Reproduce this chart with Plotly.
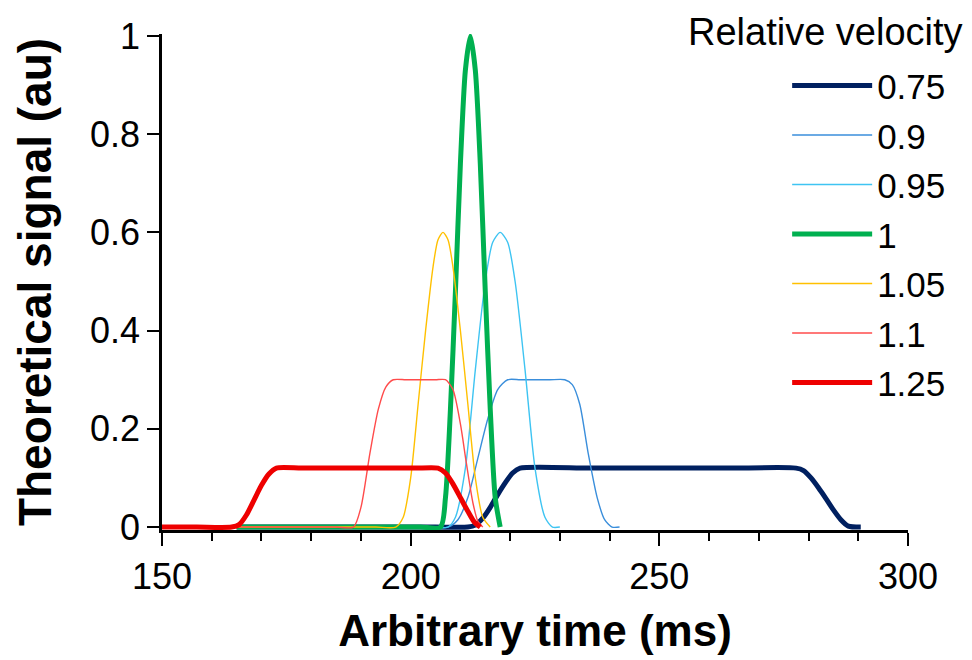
import plotly.graph_objects as go

# ---- data ----
names = ["0.75", "0.9", "0.95", "1", "1.05", "1.1", "1.25"]

x_075 = [165, 180, 195, 205, 211.5, 213, 214.5, 216, 217.5, 219, 220.5, 222, 236, 250, 264, 277.5, 279, 280.5, 282, 283.5, 285, 286.5, 288, 290.5]
y_075 = [0, 0, 0, 0, 0, 0.004, 0.018, 0.04, 0.066, 0.09, 0.11, 0.12, 0.12, 0.12, 0.12, 0.12, 0.115, 0.1, 0.08, 0.058, 0.035, 0.015, 0.002, 0]

x_090 = [165, 180, 195, 203, 207.5, 209.5, 211.5, 213.5, 215.5, 217.5, 219.5, 222, 225, 228, 231, 232.5, 234, 235.7, 237.5, 239, 240.5, 242]
y_090 = [0, 0, 0, 0, 0, 0.015, 0.06, 0.14, 0.22, 0.28, 0.3, 0.3, 0.3, 0.3, 0.3, 0.29, 0.25, 0.15, 0.06, 0.015, 0, 0]

x_095 = [165, 180, 195, 203, 207.5, 209, 211, 213, 215, 216.5, 218, 219.5, 221, 223, 225, 227, 228.5, 230]
y_095 = [0, 0, 0, 0, 0, 0.02, 0.12, 0.32, 0.5, 0.58, 0.6, 0.58, 0.5, 0.32, 0.12, 0.02, 0, 0]

x_100 = [165, 175, 185, 195, 202, 206, 207, 208, 209, 210, 211, 212, 213, 214, 215, 216, 217, 218]
y_100 = [0, 0, 0, 0, 0, 0, 0.06, 0.24, 0.48, 0.74, 0.93, 1.0, 0.93, 0.74, 0.48, 0.24, 0.06, 0]

x_105 = [165, 175, 185, 193, 197, 198.5, 200, 201.5, 203, 204.5, 205.5, 206.5, 207.5, 208.5, 210, 211.5, 213, 214.5, 216]
y_105 = [0, 0, 0, 0, 0, 0.02, 0.1, 0.25, 0.4, 0.53, 0.585, 0.6, 0.585, 0.53, 0.4, 0.25, 0.1, 0.02, 0]

x_110 = [165, 172, 179, 185, 188.5, 190, 191.8, 193.5, 195, 196.5, 199, 202, 205, 207, 208.5, 210, 211.2, 212.5, 213.5, 214.5]
y_110 = [0, 0, 0, 0, 0, 0.04, 0.15, 0.24, 0.285, 0.3, 0.3, 0.3, 0.3, 0.3, 0.28, 0.21, 0.13, 0.05, 0.012, 0]

x_125 = [150, 157, 164, 165.5, 167, 168.5, 170, 171.5, 173, 178, 184, 190, 196, 201, 205.5, 207, 208.5, 210, 211.5, 212.8, 214]
y_125 = [0, 0, 0, 0.005, 0.025, 0.055, 0.085, 0.108, 0.12, 0.12, 0.12, 0.12, 0.12, 0.12, 0.12, 0.11, 0.088, 0.06, 0.032, 0.01, 0]

xs = [x_075, x_090, x_095, x_100, x_105, x_110, x_125]
ys = [y_075, y_090, y_095, y_100, y_105, y_110, y_125]

colors = ["#002060", "#3a8edb", "#3ec4f2", "#00b050", "#ffc000", "#ff4b4b", "#ee0000"]
widths = [5, 1.4, 1.4, 5, 1.4, 1.4, 5]

x_ticks = [150, 200, 250, 300]
y_ticks = [0, 0.2, 0.4, 0.6, 0.8, 1]
y_ticklabels = ["0", "0.2", "0.4", "0.6", "0.8", "1"]

FONT = "Liberation Sans, Arial, sans-serif"

fig = go.Figure()
for i, name in enumerate(names):
    fig.add_trace(go.Scatter(
        x=xs[i], y=ys[i], name=name, mode="lines",
        line=dict(color=colors[i], width=widths[i], shape="spline", smoothing=0.7),
        legendgroup=name,
    ))

fig.update_layout(
    width=972, height=660,
    margin=dict(l=162, r=64, t=34, b=130, autoexpand=False),
    paper_bgcolor="white", plot_bgcolor="white",
    font=dict(family=FONT, color="black", size=36),
    showlegend=True,
    legend=dict(
        x=0.838, xanchor="left", y=0.955, yanchor="top",
        bgcolor="rgba(0,0,0,0)", font=dict(size=35, family=FONT),
        traceorder="grouped", tracegroupgap=1, itemwidth=80,
    ),
    annotations=[dict(
        text="Relative velocity", xref="paper", yref="paper",
        x=1.0764, y=1.004, xanchor="right", yanchor="middle",
        showarrow=False, font=dict(size=38, family=FONT, color="black"),
    )],
)

fig.update_xaxes(
    range=[150, 300], tickvals=x_ticks, ticktext=[str(v) for v in x_ticks],
    showline=True, linecolor="black", linewidth=2.5,
    ticks="outside", ticklen=13, tickwidth=2, tickcolor="black",
    minor=dict(dtick=10, ticks="outside", ticklen=8, tickwidth=2, tickcolor="black"),
    showgrid=False, zeroline=False, automargin=False,
    tickfont=dict(size=36, family=FONT),
    title=dict(text="<b>Arbitrary time (ms)</b>", font=dict(size=44, family=FONT), standoff=20),
)
fig.update_yaxes(
    range=[-0.006, 1.004], tickvals=y_ticks, ticktext=y_ticklabels,
    showline=True, linecolor="black", linewidth=2.5,
    ticks="outside", ticklen=12, tickwidth=2, tickcolor="black",
    showgrid=False, zeroline=False, automargin=False,
    tickfont=dict(size=36, family=FONT),
    title=dict(text="<b>Theoretical signal (au)</b>", font=dict(size=46, family=FONT), standoff=24),
)

fig.write_html(
    "out.html",
    config={"displayModeBar": False},
    post_script="document.body.style.margin='0';document.body.style.padding='0';",
)
